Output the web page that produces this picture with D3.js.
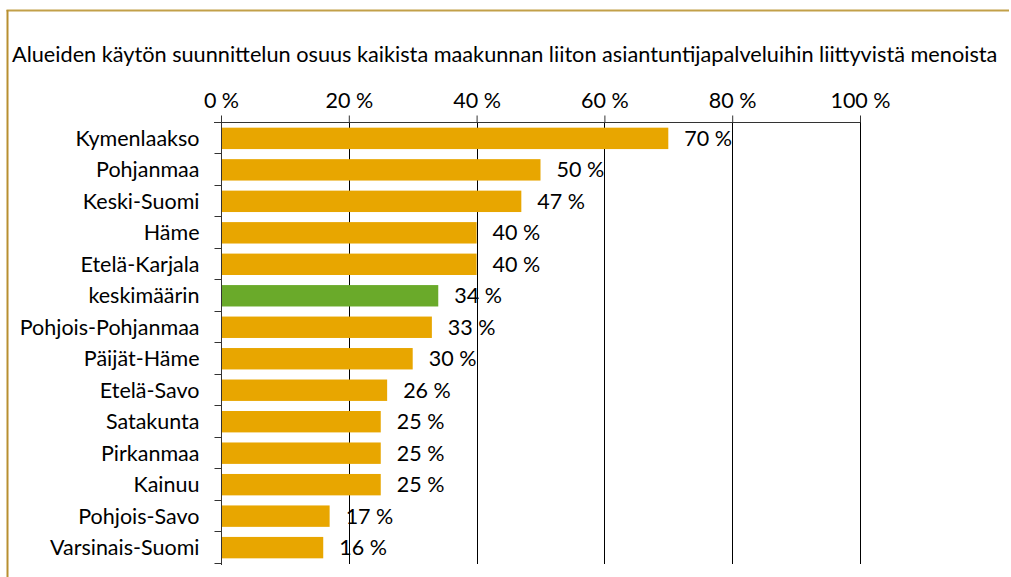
<!DOCTYPE html>
<html>
<head>
<meta charset="utf-8">
<script src="https://cdn.jsdelivr.net/npm/d3@7"></script>
<style>
  html, body { margin: 0; padding: 0; background: #fff; overflow: hidden; }
  text { font-family: Lato, "Open Sans", sans-serif; fill: #000; }
</style>
</head>
<body>
<div id="container"></div>
<script>
var categories = ["Kymenlaakso", "Pohjanmaa", "Keski-Suomi", "Häme", "Etelä-Karjala",
  "keskimäärin", "Pohjois-Pohjanmaa", "Päijät-Häme", "Etelä-Savo", "Satakunta",
  "Pirkanmaa", "Kainuu", "Pohjois-Savo", "Varsinais-Suomi"];
var values = [70, 50, 47, 40, 40, 34, 33, 30, 26, 25, 25, 25, 17, 16];
var tickValues = [0, 20, 40, 60, 80, 100];
var title = "Alueiden käytön suunnittelun osuus kaikista maakunnan liiton asiantuntijapalveluihin liittyvistä menoista";

var width = 1011, height = 577;
var fs = "21.5px";
var svg = d3.select("#container").append("svg")
  .attr("width", width).attr("height", height)
  .style("display", "block");

// frame: gold line on top and left only
svg.append("line")
  .attr("x1", 6.5).attr("x2", width - 2).attr("y1", 10.5).attr("y2", 10.5)
  .attr("stroke", "#c2a049").attr("stroke-width", 2);
svg.append("line")
  .attr("x1", 7.5).attr("x2", 7.5).attr("y1", 10).attr("y2", height)
  .attr("stroke", "#b88f30").attr("stroke-width", 2);

svg.append("text")
  .attr("x", 12).attr("y", 62)
  .style("font-size", "21.7px")
  .text(title);

var x = d3.scaleLinear().domain([0, 100]).range([221, 860]);
var y = d3.scaleBand().domain(categories).range([122, 564]).paddingInner(0.32).paddingOuter(0.18);

// gridlines
svg.append("g").selectAll("line")
  .data(tickValues.slice(1))
  .enter().append("line")
  .attr("x1", function(d) { return Math.round(x(d)) + 0.5; })
  .attr("x2", function(d) { return Math.round(x(d)) + 0.5; })
  .attr("y1", 122).attr("y2", 564)
  .attr("stroke", "#000").attr("stroke-width", 1);

// top axis
var xAxis = svg.append("g")
  .attr("transform", "translate(0,122.5)")
  .call(d3.axisTop(x).tickValues(tickValues).tickSize(7).tickPadding(8)
    .tickFormat(function(d) { return d + " %"; }));
xAxis.select(".domain").attr("stroke", "#333").attr("d", "M214,0H860");
xAxis.selectAll(".tick line").attr("stroke", "#333");
xAxis.selectAll(".tick text").style("font-size", fs).attr("fill", "#000")
  .attr("font-family", null);

// bars
svg.append("g").selectAll("rect")
  .data(values)
  .enter().append("rect")
  .attr("x", x(0) + 1)
  .attr("y", function(d, i) { return y(categories[i]); })
  .attr("width", function(d) { return x(d) - x(0) - 1; })
  .attr("height", y.bandwidth())
  .attr("fill", function(d, i) { return categories[i] === "keskimäärin" ? "#6aaa2a" : "#e8a600"; });

// left axis
var step = y.step();
var yAxis = svg.append("g").attr("transform", "translate(221.5,0)");
yAxis.append("line").attr("x1", 0).attr("x2", 0).attr("y1", 116).attr("y2", 565)
  .attr("stroke", "#333");
yAxis.selectAll("line.tk")
  .data(d3.range(categories.length + 1))
  .enter().append("line").attr("class", "tk")
  .attr("x1", -7).attr("x2", 0)
  .attr("y1", function(i) { return Math.round(122 + i * step) + 0.5; })
  .attr("y2", function(i) { return Math.round(122 + i * step) + 0.5; })
  .attr("stroke", "#333");
yAxis.selectAll("text")
  .data(categories)
  .enter().append("text")
  .attr("x", -22)
  .attr("y", function(d) { return y(d) + y.bandwidth() / 2; })
  .attr("dy", "0.35em")
  .attr("text-anchor", "end")
  .style("font-size", fs)
  .text(function(d) { return d; });

// value labels
svg.append("g").selectAll("text")
  .data(values)
  .enter().append("text")
  .attr("x", function(d) { return x(d) + 16; })
  .attr("y", function(d, i) { return y(categories[i]) + y.bandwidth() / 2; })
  .attr("dy", "0.35em")
  .style("font-size", fs)
  .text(function(d) { return d + " %"; });
</script>
</body>
</html>
